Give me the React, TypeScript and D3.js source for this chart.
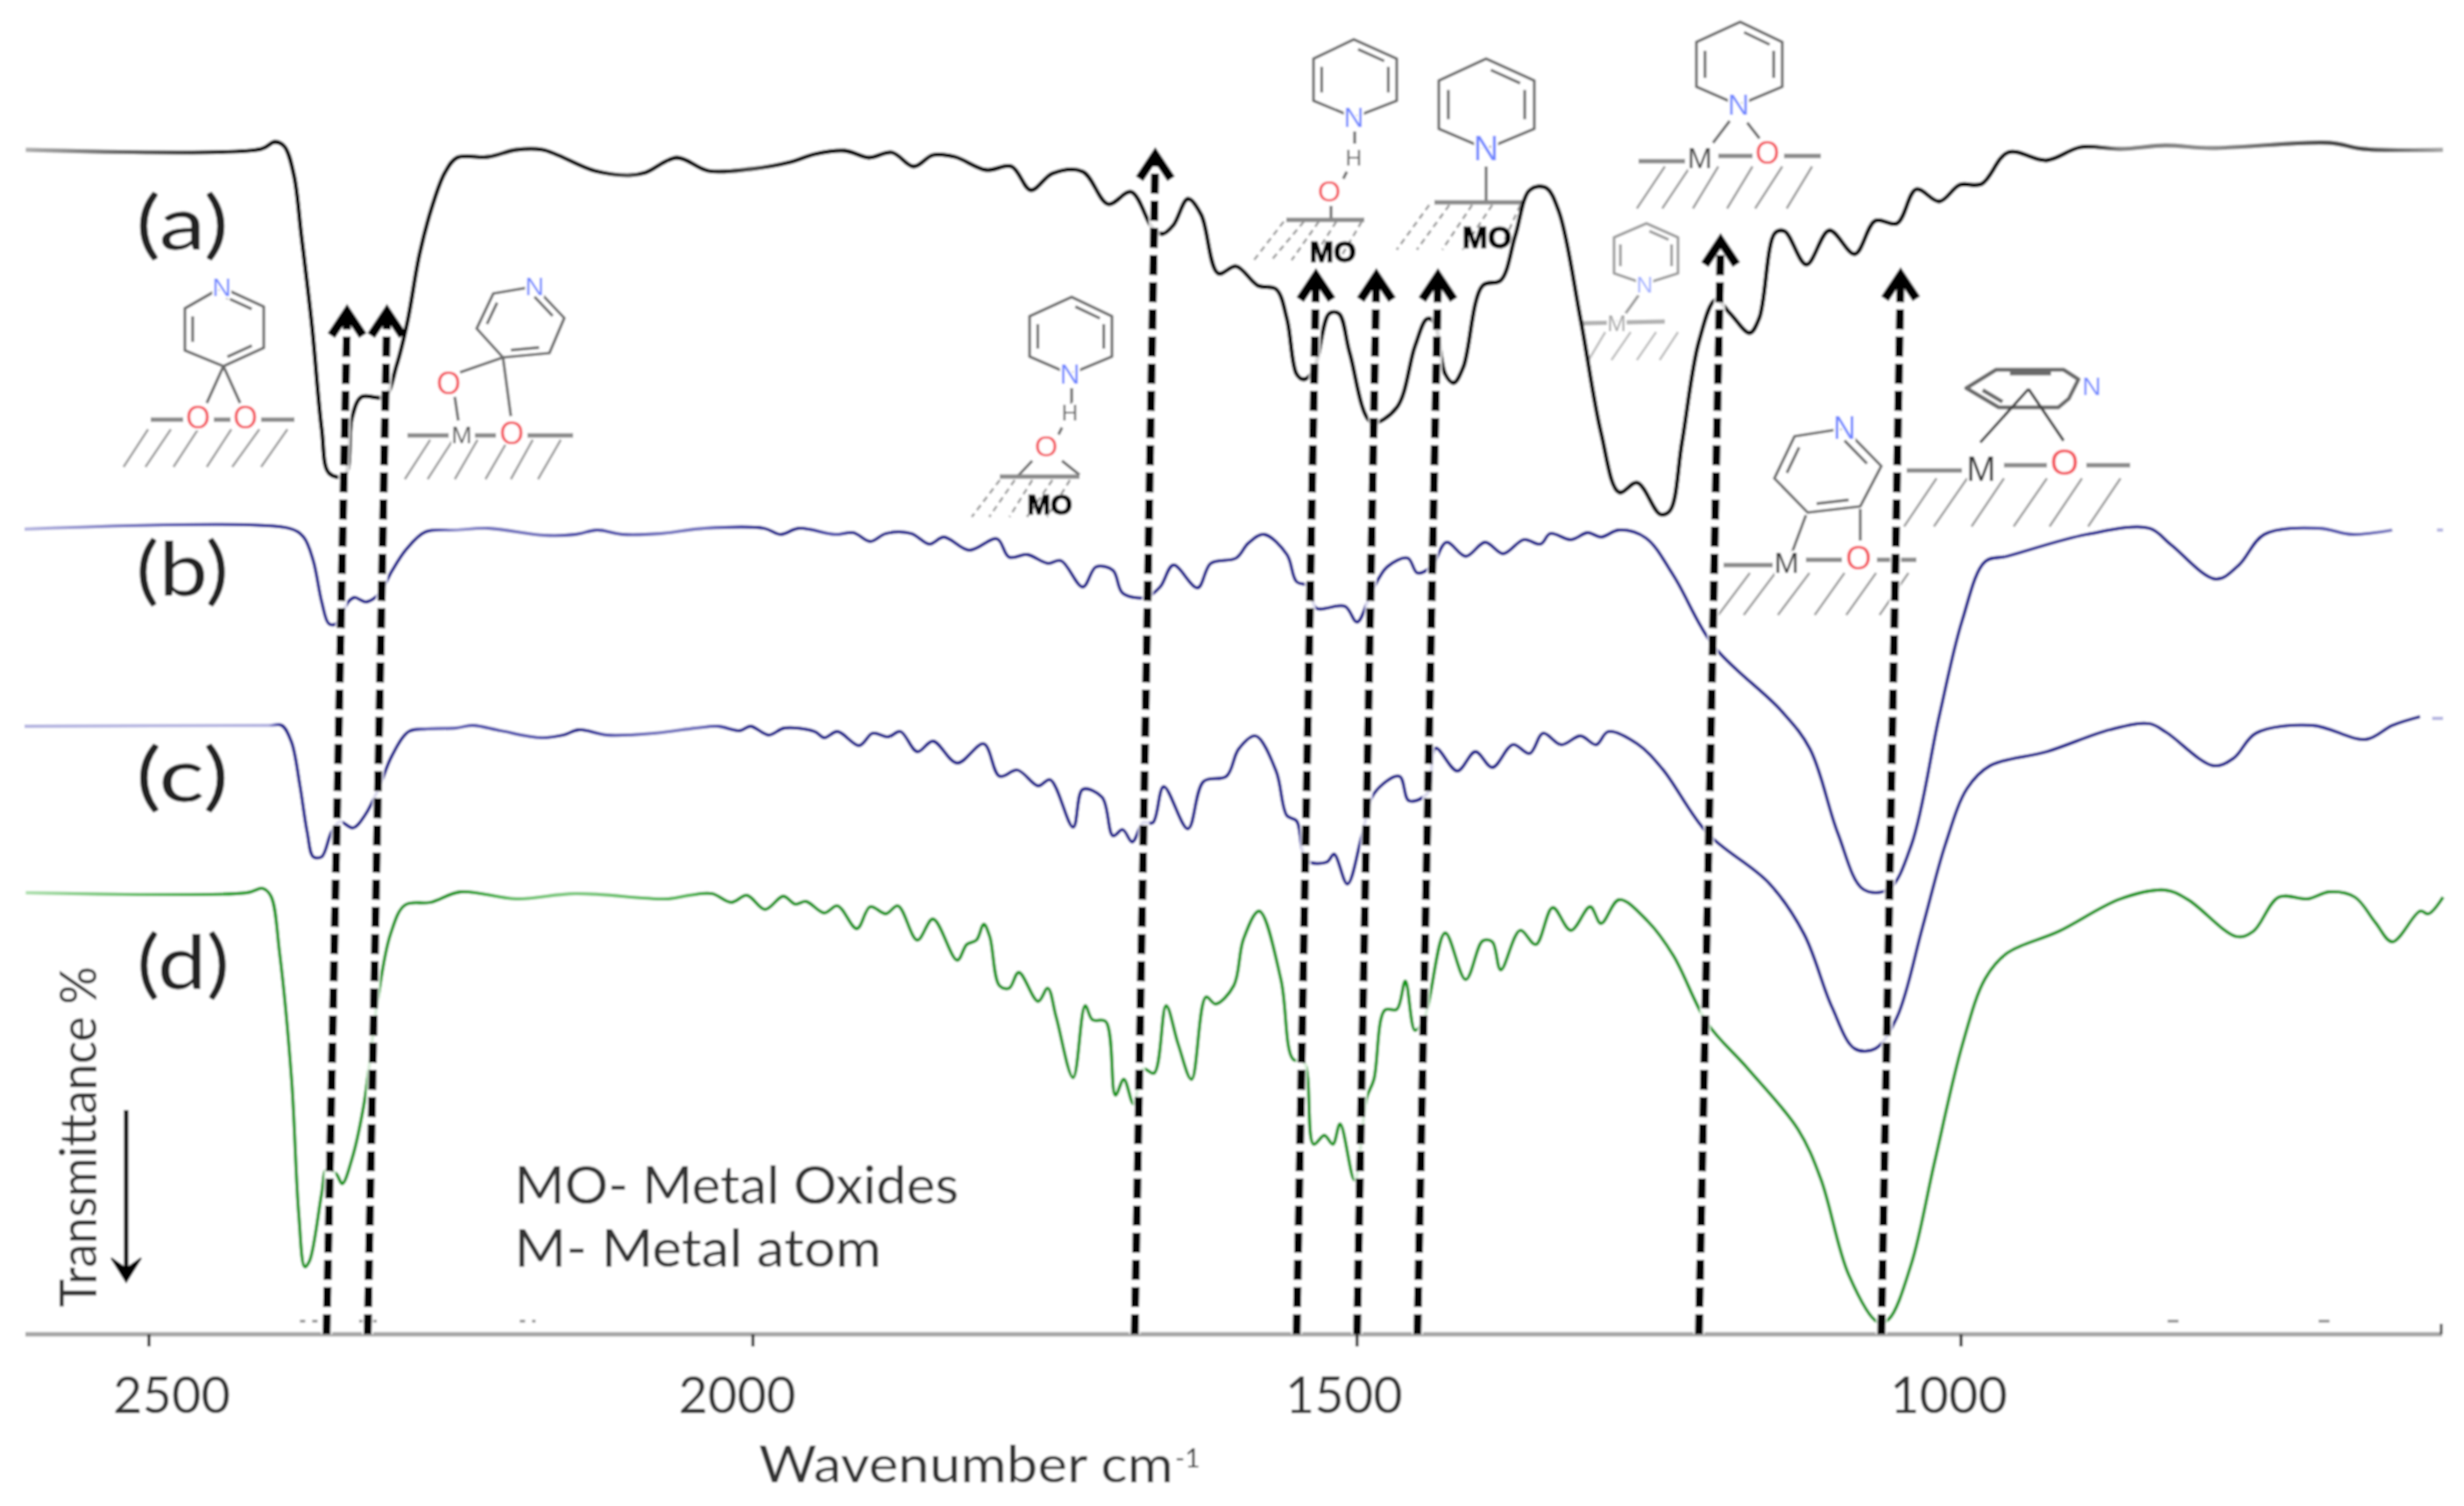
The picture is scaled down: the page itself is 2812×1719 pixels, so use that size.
import React from "react";
import { scaleLinear, line, curveCatmullRom, interpolateRgb } from "d3";

const width = 2812;
const height = 1719;

// spectra: wavenumber (cm-1) and transmittance in arbitrary units
const aWave = [2602,2407,2396,2388,2380,2374,2365,2357,2351,2338,2332,2324,2305,2295,2286,2276,2265,2255,2245,2219,2196,2174,2131,2102,2089,2063,2037,2002,1969,1949,1924,1904,1885,1867,1851,1833,1807,1786,1770,1752,1727,1706,1687,1669,1661,1652,1640,1629,1615,1600,1582,1567,1558,1550,1544,1536,1523,1515,1506,1488,1467,1452,1442,1436,1427,1420,1412,1396,1381,1369,1357,1344,1333,1315,1298,1283,1268,1249,1241,1231,1217,1203,1191,1175,1167,1154,1146,1128,1109,1088,1071,1053,1037,1018,1001,983,961,929,901,868,831,793,695,667,601];
const aT = [1352,1353,1361,1356,1323,1256,1150,1033,983,980,1046,1070,1070,1106,1156,1233,1290,1326,1343,1344,1352,1352,1328,1323,1326,1343,1328,1330,1338,1347,1351,1343,1349,1333,1346,1344,1329,1333,1306,1325,1327,1290,1304,1262,1256,1266,1296,1278,1211,1219,1197,1193,1159,1096,1090,1100,1165,1165,1120,1041,1058,1128,1159,1155,1096,1086,1104,1197,1203,1254,1306,1309,1282,1159,1029,961,972,936,940,1018,1133,1181,1165,1143,1160,1257,1259,1221,1260,1233,1271,1268,1307,1293,1312,1313,1349,1340,1355,1353,1357,1354,1360,1353,1352];

const bWave = [2603,2384,2372,2364,2357,2351,2345,2335,2330,2320,2309,2299,2287,2271,2246,2219,2173,2147,2129,2108,2076,2040,1991,1977,1962,1932,1917,1903,1890,1869,1854,1842,1821,1798,1788,1773,1756,1745,1727,1716,1702,1694,1675,1663,1652,1632,1621,1600,1590,1577,1558,1550,1539,1534,1510,1500,1488,1475,1458,1450,1438,1426,1410,1394,1379,1362,1348,1340,1323,1309,1298,1283,1261,1238,1205,1149,1125,1102,1081,1060,1041,1018,999,980,962,896,844,826,789,770,749,704,676,643,622,606,601];
const bT = [919,920,910,883,836,811,811,836,841,836,846,871,896,916,918,920,912,913,918,913,914,920,920,913,920,913,915,905,914,914,902,910,895,908,887,890,880,883,853,876,872,846,841,853,878,852,880,886,903,913,890,859,854,829,831,813,847,876,886,869,877,904,888,904,891,907,902,914,907,915,910,918,909,866,786,712,668,572,508,508,559,706,815,882,888,913,920,901,862,878,913,920,913,918,null,918,918];

const cWave = [2603,2401,2390,2382,2375,2369,2364,2357,2349,2342,2331,2321,2309,2299,2285,2270,2246,2232,2209,2176,2157,2144,2121,2082,2047,2029,2011,2002,1987,1974,1949,1941,1930,1912,1901,1888,1878,1864,1851,1831,1809,1796,1781,1764,1754,1735,1727,1711,1702,1694,1686,1677,1669,1660,1640,1627,1608,1598,1584,1567,1558,1550,1542,1525,1519,1508,1496,1486,1465,1457,1442,1435,1417,1402,1388,1371,1357,1346,1331,1315,1302,1292,1268,1247,1210,1159,1130,1107,1088,1071,1053,1032,1013,995,976,929,877,844,830,791,774,756,709,665,643,620,615,610,601];
const cT = [694,695,695,676,626,573,545,545,573,585,578,593,626,660,688,691,692,695,689,681,684,690,684,686,692,694,689,694,684,692,688,681,688,672,686,682,688,665,677,652,674,637,644,626,633,579,622,613,569,576,562,584,584,625,577,631,637,668,683,643,592,586,541,539,548,514,569,617,637,609,617,669,643,665,647,673,663,686,673,683,673,688,674,645,572,515,457,374,326,326,362,464,559,623,649,665,690,697,687,649,658,686,695,679,695,705,null,703,703];

const dWave = [2602,2419,2406,2399,2392,2382,2376,2371,2367,2357,2353,2345,2340,2332,2322,2311,2300,2288,2267,2242,2196,2147,2070,2053,2034,2018,2005,1990,1975,1965,1956,1941,1930,1914,1903,1890,1880,1864,1851,1831,1823,1815,1809,1804,1796,1788,1780,1764,1756,1749,1735,1725,1719,1708,1700,1693,1685,1677,1668,1658,1648,1637,1625,1617,1602,1594,1581,1563,1553,1544,1536,1527,1520,1514,1502,1492,1486,1477,1467,1460,1452,1444,1427,1410,1396,1388,1381,1365,1352,1338,1323,1307,1298,1283,1259,1238,1210,1177,1135,1116,1093,1069,1060,1041,1022,999,980,962,919,868,831,812,772,758,737,713,695,674,657,643,620,613,601];
const dT = [504,504,509,500,437,292,137,77,84,161,188,183,172,200,263,379,457,490,493,505,497,503,497,501,503,493,501,485,500,491,494,481,489,463,488,480,489,450,474,427,445,450,468,454,398,395,413,380,395,362,293,375,359,357,273,291,263,303,298,375,331,291,385,377,398,451,483,405,314,311,217,227,217,240,176,270,291,370,371,403,347,362,458,405,449,448,416,461,445,487,461,488,469,496,471,432,355,304,234,177,68,14,17,81,196,330,406,435,460,497,507,496,454,460,499,497,505,499,470,448,483,480,499];

const tickValues = [2500, 2000, 1500, 1000];
const tickLabelShift = [26, -18, -15, -14];
const seriesLabels = ["(a)", "(b)", "(c)", "(d)"];
const seriesLabelX = [155, 155, 155, 156];
const seriesLabelY = [285, 680, 915, 1129];

// dashed assignment arrows: wavenumber at the axis and at the arrow tip
const arrowFoot = [2353, 2319, 1684, 1550, 1500, 1450, 1217, 1066];
const arrowTip = [2336, 2303, 1667, 1534, 1484, 1433, 1199, 1050];
const arrowTipT = [1176, 1176, 1355, 1217, 1217, 1217, 1257, 1218];

// little specks that sit just above the axis in the source
const speckWave = [2375, 2350, 2326, 2307, 2193, 2180, 829, 820, 704, 695];

const xScale = scaleLinear().domain([2500, 1000]).range([170, 2238]);
const yScale = scaleLinear().domain([0, 1523]).range([1523, 0]);

const spectrum = line<[number, number | null]>()
  .defined(d => d[1] !== null)
  .x(d => xScale(d[0]))
  .y(d => yScale(d[1] as number))
  .curve(curveCatmullRom.alpha(0.5));

const series = [
  { id: "a", wave: aWave, t: aT, light: "#b0b0b0", dark: "#000000", w: 4.8 },
  { id: "b", wave: bWave, t: bT, light: "#b8b8e2", dark: "#0e0e8c", w: 3.8 },
  { id: "c", wave: cWave, t: cT, light: "#b8b8e2", dark: "#0e0e8c", w: 3.8 },
  { id: "d", wave: dWave, t: dT, light: "#aee0ae", dark: "#0c9612", w: 3.8 },
];

// flat runs of the curves look washed out in the source, steep ones are solid
const SlopeGradient = ({ s }: any) => {
  const x0 = xScale(s.wave[0]);
  const x1 = xScale(s.wave[s.wave.length - 1]);
  const mix = interpolateRgb(s.light, s.dark);
  const slope = (i: number, j: number) => {
    if (j < 0 || j >= s.t.length || s.t[i] === null || s.t[j] === null) return 0;
    return Math.abs(s.t[j] - s.t[i]) / Math.abs(xScale(s.wave[j]) - xScale(s.wave[i]));
  };
  return (
    <linearGradient id={`grad-${s.id}`} gradientUnits="userSpaceOnUse" x1={x0} x2={x1} y1={0} y2={0}>
      {s.wave.map((w: number, i: number) => {
        const k = Math.max(slope(i, i - 1), slope(i, i + 1));
        return <stop key={i} offset={(xScale(w) - x0) / (x1 - x0)} stopColor={mix(Math.min(1, k / 0.3))} />;
      })}
    </linearGradient>
  );
};

// ---- adsorbed pyridine sketches ----
const RED = "#f4535b";
const BLUE = "#6f86ff";

const molecules: any[] = [
  { // bidentate O-O, left
    ring: [[253,328],[301,350],[301,397],[255,418],[211,400],[211,352]], doubles: [0,2,4],
    bonds: [[255,418,236,460],[255,418,274,460]],
    surface: [[172,479,209,479],[244,479,263,479],[298,479,336,479]],
    hatch: { top: [169,195,226,264,296,328], bottom: [141,166,198,236,265,298], y1: 490, y2: 533 },
    labels: [["N",253,338,BLUE,30],["O",226,489,RED,36],["O",280,489,RED,36]],
  },
  {
    ring: [[610,327],[644,363],[627,403],[574,408],[544,375],[563,335]], doubles: [0,2,4],
    bonds: [[574,408,525,425],[574,408,583,475],[519,453,523,480]],
    surface: [[465,497,512,497],[542,497,566,497],[602,497,654,497]],
    hatch: { top: [491,517,545,580,608,640], bottom: [462,488,519,554,583,614], y1: 502, y2: 547 },
    labels: [["N",610,337,BLUE,30],["O",512,450,RED,36],["M",527,506,"#555",28],["O",584,507,RED,36]],
  },
  { // H-bonded, lower one
    ring: [[1223,339],[1269,361],[1269,407],[1221,427],[1175,407],[1175,361]], doubles: [0,1,4],
    bonds: [[1223,443,1223,461],[1212,488,1208,496],[1178,526,1161,544],[1212,526,1232,542]],
    surface: [[1141,544,1232,544]],
    hatch: { top: [1141,1158,1178,1201,1221], bottom: [1109,1129,1152,1172,1195], y1: 548, y2: 590, dash: "7 5" },
    labels: [["N",1221,438,BLUE,32],["H",1221,480,"#666",26],["O",1194,521,RED,34]],
    mo: [1198, 587, 32],
  },
  { // H-bonded, upper one
    ring: [[1545,45],[1594,67],[1594,115],[1545,134],[1499,115],[1499,67]], doubles: [0,1,4],
    bonds: [[1546,150,1546,164],[1537,196,1533,204],[1519,235,1519,251]],
    surface: [[1468,251,1557,251]],
    hatch: { top: [1465,1488,1505,1525,1554], bottom: [1431,1451,1474,1497,1528], y1: 253, y2: 297, dash: "7 5" },
    labels: [["N",1545,145,BLUE,32],["H",1545,189,"#666",26],["O",1517,230,RED,34]],
    mo: [1521, 299, 33],
  },
  { // N on the surface
    ring: [[1696,67],[1751,92],[1751,147],[1696,170],[1642,147],[1642,92]], doubles: [0,1,4],
    bonds: [[1696,190,1696,229]],
    surface: [[1637,231,1738,231]],
    hatch: { top: [1631,1654,1680,1703,1735], bottom: [1594,1617,1646,1669,1712], y1: 234, y2: 285, dash: "7 5" },
    labels: [["N",1696,183,BLUE,40]],
    mo: [1697, 283, 35],
  },
  { // N, O bridge at top right
    ring: [[1986,25],[2034,48],[2034,99],[1984,120],[1936,99],[1936,48]], doubles: [0,1,4],
    bonds: [[1974,138,1955,163],[1994,140,2008,158]],
    surface: [[1870,184,1923,184],[1961,178,2000,178],[2036,178,2078,178]],
    hatch: { top: [1900,1929,1961,2000,2034,2068], bottom: [1868,1897,1932,1971,2003,2039], y1: 190, y2: 238 },
    labels: [["N",1984,131,BLUE,34],["M",1940,192,"#444",34],["O",2017,187,RED,36]],
  },
  { // faint one on the (a) band
    ring: [[1879,255],[1915,271],[1915,312],[1877,324],[1842,312],[1842,271]], doubles: [0,1,4],
    bonds: [[1870,337,1855,358]],
    surface: [[1806,369,1900,367]],
    hatch: { top: [1832,1861,1890,1915], bottom: [1813,1839,1868,1894], y1: 379, y2: 411 },
    labels: [["N",1877,334,BLUE,26],["M",1845,378,"#777",26]],
    opacity: 0.65,
  },
  {
    ring: [[2105,489],[2147,532],[2123,578],[2063,585],[2025,546],[2048,498]], doubles: [0,2,4],
    bonds: [[2061,588,2045,631],[2123,581,2123,617]],
    surface: [[1967,645,2023,645],[2061,639,2102,639],[2142,639,2187,639]],
    hatch: { top: [1997,2026,2065,2105,2141,2178], bottom: [1961,1990,2029,2071,2107,2145], y1: 654, y2: 702 },
    labels: [["N",2105,501,BLUE,36],["M",2039,654,"#333",34],["O",2121,650,RED,38]],
  },
  { // lying flat
    ring: [[2244,443],[2278,422],[2355,422],[2372,433],[2361,455],[2349,465],[2281,465]], doubles: [6,1],
    thick: true,
    bonds: [[2315,444,2260,505],[2315,444,2355,503]],
    surface: [[2176,537,2239,537],[2287,531,2336,531],[2381,531,2431,531]],
    hatch: { top: [2210,2245,2287,2336,2376,2420], bottom: [2173,2207,2250,2298,2339,2383], y1: 546, y2: 601 },
    labels: [["N",2387,451,BLUE,30],["M",2261,549,"#333",40],["O",2356,542,RED,42]],
  },
];

const Molecule = ({ m }: any) => {
  const n = m.ring.length;
  const cx = m.ring.reduce((t: number, p: number[]) => t + p[0], 0) / n;
  const cy = m.ring.reduce((t: number, p: number[]) => t + p[1], 0) / n;
  const inner = (i: number) => {
    const a = m.ring[i];
    const b = m.ring[(i + 1) % n];
    const pull = (p: number[]) => [p[0] + (cx - p[0]) * 0.2, p[1] + (cy - p[1]) * 0.2];
    const pa = pull(a);
    const pb = pull(b);
    const qa = [pa[0] + (pb[0] - pa[0]) * 0.12, pa[1] + (pb[1] - pa[1]) * 0.12];
    const qb = [pb[0] + (pa[0] - pb[0]) * 0.12, pb[1] + (pa[1] - pb[1]) * 0.12];
    return <line key={i} x1={qa[0]} y1={qa[1]} x2={qb[0]} y2={qb[1]} />;
  };
  return (
    <g opacity={m.opacity ?? 1} strokeLinecap="butt" fill="none">
      <g stroke="#9a9a9a" strokeWidth={2.6} strokeDasharray={m.hatch.dash}>
        {m.hatch.top.map((x: number, i: number) => (
          <line key={i} x1={x} y1={m.hatch.y1} x2={m.hatch.bottom[i]} y2={m.hatch.y2} />
        ))}
      </g>
      <g stroke="#6a6a6a" strokeWidth={m.thick ? 4.5 : 3.2}>
        <polygon points={m.ring.map((p: number[]) => p.join(",")).join(" ")} strokeLinejoin="round" />
        {m.doubles.map(inner)}
      </g>
      <g stroke={m.thick ? "#444" : "#6a6a6a"} strokeWidth={3.2}>
        {m.bonds.map((b: number[], i: number) => (
          <line key={i} x1={b[0]} y1={b[1]} x2={b[2]} y2={b[3]} />
        ))}
      </g>
      <g stroke="#8a8a8a" strokeWidth={5}>
        {m.surface.map((b: number[], i: number) => (
          <line key={i} x1={b[0]} y1={b[1]} x2={b[2]} y2={b[3]} />
        ))}
      </g>
      {m.labels.map((l: any[], i: number) => (
        <text key={i} x={l[1]} y={l[2]} fill={l[3]} fontSize={l[4]} textAnchor="middle"
          stroke="#fff" strokeWidth={5} paintOrder="stroke"
          fontFamily="'Liberation Sans', sans-serif">{l[0]}</text>
      ))}
      {m.mo && (
        <text x={m.mo[0]} y={m.mo[1]} fontSize={m.mo[2]} textAnchor="middle" fontWeight={700}
          fill="#000" stroke="#000" strokeWidth={1.2} fontFamily="'Liberation Sans', sans-serif">MO</text>
      )}
    </g>
  );
};

const Arrow = ({ i }: { i: number }) => {
  const x1 = xScale(arrowFoot[i]);
  const x2 = xScale(arrowTip[i]);
  const y1 = yScale(0);
  const y2 = yScale(arrowTipT[i]);
  const head = `M${x2 - 18},${y2 + 36} L${x2},${y2 + 9} L${x2 + 18},${y2 + 36}`;
  return (
    <g fill="none">
      <line x1={x1} y1={y1} x2={x2} y2={y2 + 20} stroke="#fff" strokeWidth={13} opacity={0.85} />
      <line x1={x1} y1={y1} x2={x2} y2={y2 + 14} stroke="#000" strokeWidth={9} strokeDasharray="23 8" />
      <path d={head} stroke="#000" strokeWidth={10} strokeLinejoin="miter" />
    </g>
  );
};

const sansFont = "Lato, 'Open Sans', sans-serif";

export default function App() {
  return (
    <svg width={width} height={height} viewBox={`0 0 ${width} ${height}`}
      style={{ position: "absolute", left: 0, top: 0, display: "block", background: "#fff" }}>
      <defs>
        <filter id="soft" x="0" y="0" width="100%" height="100%" filterUnits="userSpaceOnUse" primitiveUnits="userSpaceOnUse">
          <feGaussianBlur stdDeviation={0.9} />
        </filter>
        {series.map(s => <SlopeGradient key={s.id} s={s} />)}
      </defs>
      <g filter="url(#soft)">
        <rect x={0} y={0} width={width} height={height} fill="#fff" />
        {molecules.map((m, i) => <Molecule key={i} m={m} />)}

        {series.map(s => (
          <path key={s.id} fill="none" stroke={`url(#grad-${s.id})`} strokeWidth={s.w} strokeLinejoin="round"
            d={spectrum(s.wave.map((w: number, i: number) => [w, s.t[i]] as [number, number | null])) as string} />
        ))}

        {/* axis */}
        <line x1={29} x2={2787} y1={yScale(0)} y2={yScale(0)} stroke="#a4a4a4" strokeWidth={5} />
        {tickValues.map(t => (
          <line key={t} x1={xScale(t)} x2={xScale(t)} y1={yScale(0)} y2={yScale(0) + 14} stroke="#333" strokeWidth={3.5} />
        ))}
        <line x1={2786} x2={2786} y1={yScale(0) - 12} y2={yScale(0)} stroke="#444" strokeWidth={3} />
        {speckWave.filter((_, i) => i % 2 === 0).map((w, i) => (
          <line key={w} x1={xScale(w)} x2={xScale(speckWave[i * 2 + 1])} y1={yScale(15)} y2={yScale(15)}
            stroke="#888" strokeWidth={3} strokeDasharray={i > 2 ? undefined : "6 8"} />
        ))}

        {arrowFoot.map((_, i) => <Arrow key={i} i={i} />)}

        {tickValues.map((t, i) => (
          <text key={t} x={xScale(t) + tickLabelShift[i]} y={1613} fontSize={59} fill="#333" textAnchor="middle"
            textLength={134} lengthAdjust="spacingAndGlyphs" fontFamily={sansFont}>{t}</text>
        ))}

        {seriesLabels.map((l, i) => (
          <text key={l} x={seriesLabelX[i]} y={seriesLabelY[i]} fontSize={86} fill="#222"
            textLength={106} lengthAdjust="spacingAndGlyphs" fontFamily={sansFont}>{l}</text>
        ))}

        <text x={866} y={1692} fontSize={58} fill="#333" textLength={473} lengthAdjust="spacingAndGlyphs"
          fontFamily={sansFont}>Wavenumber cm</text>
        <text x={1341} y={1675} fontSize={30} fill="#333" fontFamily={sansFont}>-1</text>

        <text x={587} y={1374} fontSize={60} fill="#333" textLength={507} lengthAdjust="spacingAndGlyphs"
          fontFamily={sansFont}>MO- Metal Oxides</text>
        <text x={587} y={1446} fontSize={60} fill="#333" textLength={419} lengthAdjust="spacingAndGlyphs"
          fontFamily={sansFont}>M- Metal atom</text>

        <text transform="translate(110,1492) rotate(-90)" fontSize={58} fill="#333" textLength={389}
          lengthAdjust="spacingAndGlyphs" fontFamily={sansFont}>Transmittance %</text>
        <line x1={144} x2={144} y1={1267} y2={1450} stroke="#000" strokeWidth={5} />
        <path d="M127,1436 L144,1463 L161,1436 L144,1448 Z" fill="#000" stroke="#000" strokeWidth={2} />
      </g>
    </svg>
  );
}
